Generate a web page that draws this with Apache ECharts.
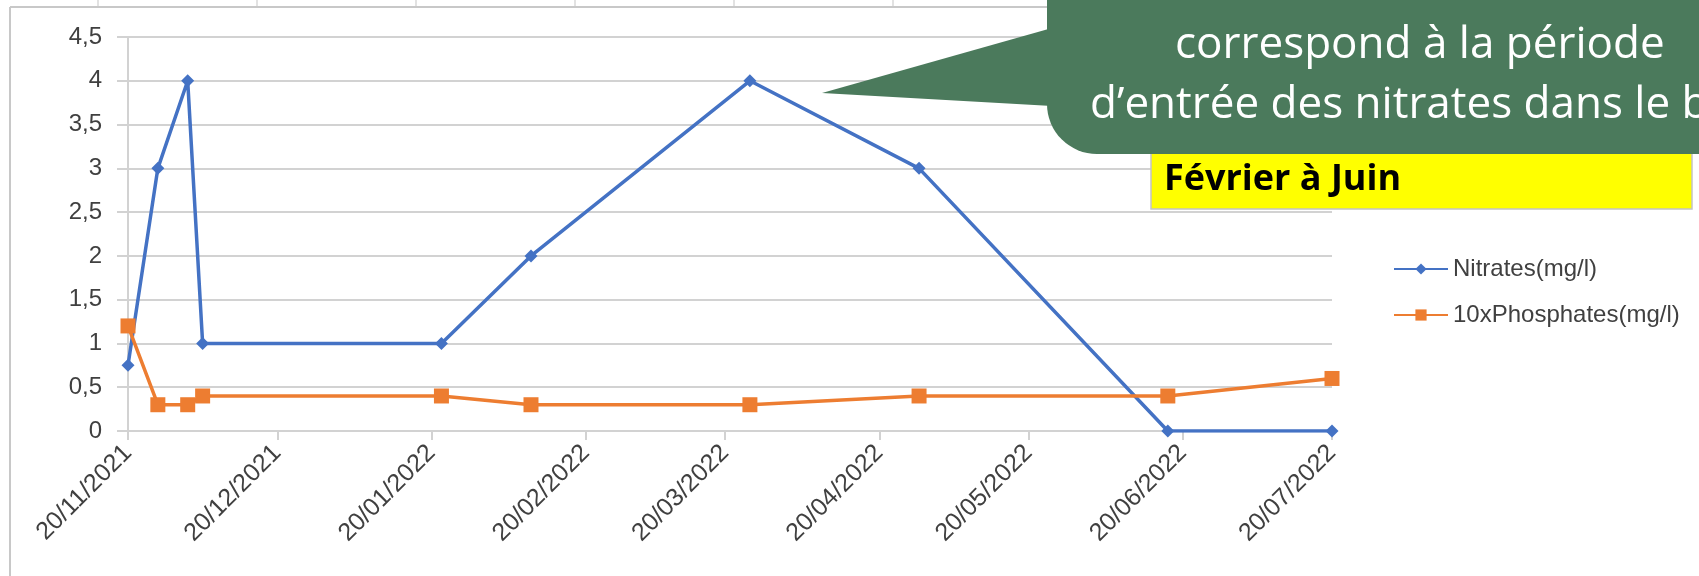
<!DOCTYPE html>
<html>
<head>
<meta charset="utf-8">
<script src="https://cdn.jsdelivr.net/npm/echarts@6/dist/echarts.min.js"></script>
<style>
  html, body { margin: 0; padding: 0; background: #fff; }
  #chart { width: 1699px; height: 576px; }
</style>
</head>
<body>
<div id="chart"></div>
<script>
// dates des prélèvements
const dates = ['2021-11-20', '2021-11-26', '2021-12-02', '2021-12-05', '2022-01-22',
  '2022-02-09', '2022-03-25', '2022-04-28', '2022-06-17', '2022-07-20']
const nitrates = [0.75, 3, 4, 1, 1, 2, 4, 3, 0, 0]
const phosphates10 = [1.2, 0.3, 0.3, 0.4, 0.4, 0.3, 0.3, 0.4, 0.4, 0.6]

// graduations de l'axe des dates (le 20 de chaque mois)
const tickDates = ['2021-11-20', '2021-12-20', '2022-01-20', '2022-02-20', '2022-03-20',
  '2022-04-20', '2022-05-20', '2022-06-20', '2022-07-20']

// l'axe compte en jours depuis le premier prélèvement
const DAY = 86400000
const toUTC = s => {
  const [y, m, d] = s.split('-').map(Number)
  return Date.UTC(y, m - 1, d)
}
const t0 = toUTC(tickDates[0])
const toDay = s => Math.round((toUTC(s) - t0) / DAY)
const pad = n => (n < 10 ? '0' : '') + n
const fmtDay = v => {
  const d = new Date(t0 + v * DAY)
  return pad(d.getUTCDate()) + '/' + pad(d.getUTCMonth() + 1) + '/' + d.getUTCFullYear()
}

const tickValues = tickDates.map(toDay)
const gridColor = '#d2d2d2'
const textColor = '#404040'
const font = 'Liberation Sans, Arial, sans-serif'

const chart = echarts.init(document.getElementById('chart'))

// traits de cellules du tableur au-dessus du graphique
const cellLines = [98, 257, 416, 575, 734, 893].map(x => ({
  type: 'line',
  shape: { x1: x, y1: 0, x2: x, y2: 7 },
  style: { stroke: '#d9d9d9', lineWidth: 1.5 },
  z: 1
}))

chart.setOption({
  backgroundColor: '#ffffff',
  animation: false,
  textStyle: { fontFamily: font },
  grid: { left: 128, top: 37, right: 367, bottom: 145 },
  legend: {
    orient: 'vertical',
    left: 1388,
    top: 252,
    itemWidth: 54,
    itemHeight: 14,
    itemGap: 22,
    textStyle: { color: textColor, fontSize: 24, fontFamily: font },
    data: ['Nitrates(mg/l)', '10xPhosphates(mg/l)']
  },
  xAxis: {
    type: 'value',
    min: tickValues[0],
    max: tickValues[tickValues.length - 1],
    splitLine: { show: false },
    axisLine: { show: true, onZero: false, lineStyle: { color: gridColor, width: 2 } },
    axisTick: {
      show: true,
      customValues: tickValues,
      length: 9,
      lineStyle: { color: gridColor, width: 2 }
    },
    axisLabel: {
      customValues: tickValues,
      rotate: 45,
      margin: 18,
      color: textColor,
      fontSize: 25,
      fontFamily: font,
      formatter: v => fmtDay(v)
    }
  },
  yAxis: {
    type: 'value',
    min: 0,
    max: 4.5,
    interval: 0.5,
    axisLine: { show: true, lineStyle: { color: gridColor, width: 2 } },
    axisTick: { show: true, length: 11, lineStyle: { color: gridColor, width: 2 } },
    splitLine: { lineStyle: { color: gridColor, width: 2 } },
    axisLabel: {
      margin: 26,
      color: textColor,
      fontSize: 24,
      fontFamily: font,
      formatter: v => String(v).replace('.', ',')
    }
  },
  series: [
    {
      name: 'Nitrates(mg/l)',
      type: 'line',
      data: dates.map((d, i) => [toDay(d), nitrates[i]]),
      symbol: 'diamond',
      symbolSize: 13,
      lineStyle: { color: '#4472C4', width: 3.5 },
      itemStyle: { color: '#4472C4' }
    },
    {
      name: '10xPhosphates(mg/l)',
      type: 'line',
      data: dates.map((d, i) => [toDay(d), phosphates10[i]]),
      symbol: 'rect',
      symbolSize: 15,
      lineStyle: { color: '#ED7D31', width: 3.5 },
      itemStyle: { color: '#ED7D31' }
    }
  ],
  graphic: [
    ...cellLines,
    // cadre de la zone de graphique
    { type: 'line', shape: { x1: 10, y1: 7, x2: 1699, y2: 7 }, style: { stroke: '#c8c8c8', lineWidth: 2 }, z: 1 },
    { type: 'line', shape: { x1: 10, y1: 7, x2: 10, y2: 576 }, style: { stroke: '#c8c8c8', lineWidth: 2 }, z: 1 },
    // encadré jaune
    {
      type: 'rect',
      shape: { x: 1151, y: 130, width: 541, height: 79 },
      style: { fill: '#ffff00', stroke: '#c4c4c4', lineWidth: 1.5 },
      z: 50
    },
    {
      type: 'text',
      x: 1164,
      y: 180,
      style: {
        text: 'Février à Juin',
        fill: '#000000',
        font: 'bold 36px "Open Sans", sans-serif',
        verticalAlign: 'middle'
      },
      z: 51
    },
    // bulle verte
    {
      type: 'polygon',
      shape: { points: [[822, 93], [1052, 28], [1052, 106]] },
      style: { fill: '#4b7a5c' },
      z: 60
    },
    {
      type: 'rect',
      shape: { x: 1047, y: -20, width: 720, height: 174, r: [0, 0, 0, 50] },
      style: { fill: '#4b7a5c' },
      z: 60
    },
    {
      type: 'text',
      x: 1175,
      y: 45,
      style: {
        text: 'correspond à la période',
        fill: '#ffffff',
        font: '44px "Open Sans", sans-serif',
        verticalAlign: 'middle'
      },
      z: 61
    },
    {
      type: 'text',
      x: 1090,
      y: 105,
      style: {
        text: 'd’entrée des nitrates dans le bassin',
        fill: '#ffffff',
        font: '44px "Open Sans", sans-serif',
        verticalAlign: 'middle'
      },
      z: 61
    }
  ]
})

window.addEventListener('resize', () => chart.resize())
</script>
</body>
</html>
